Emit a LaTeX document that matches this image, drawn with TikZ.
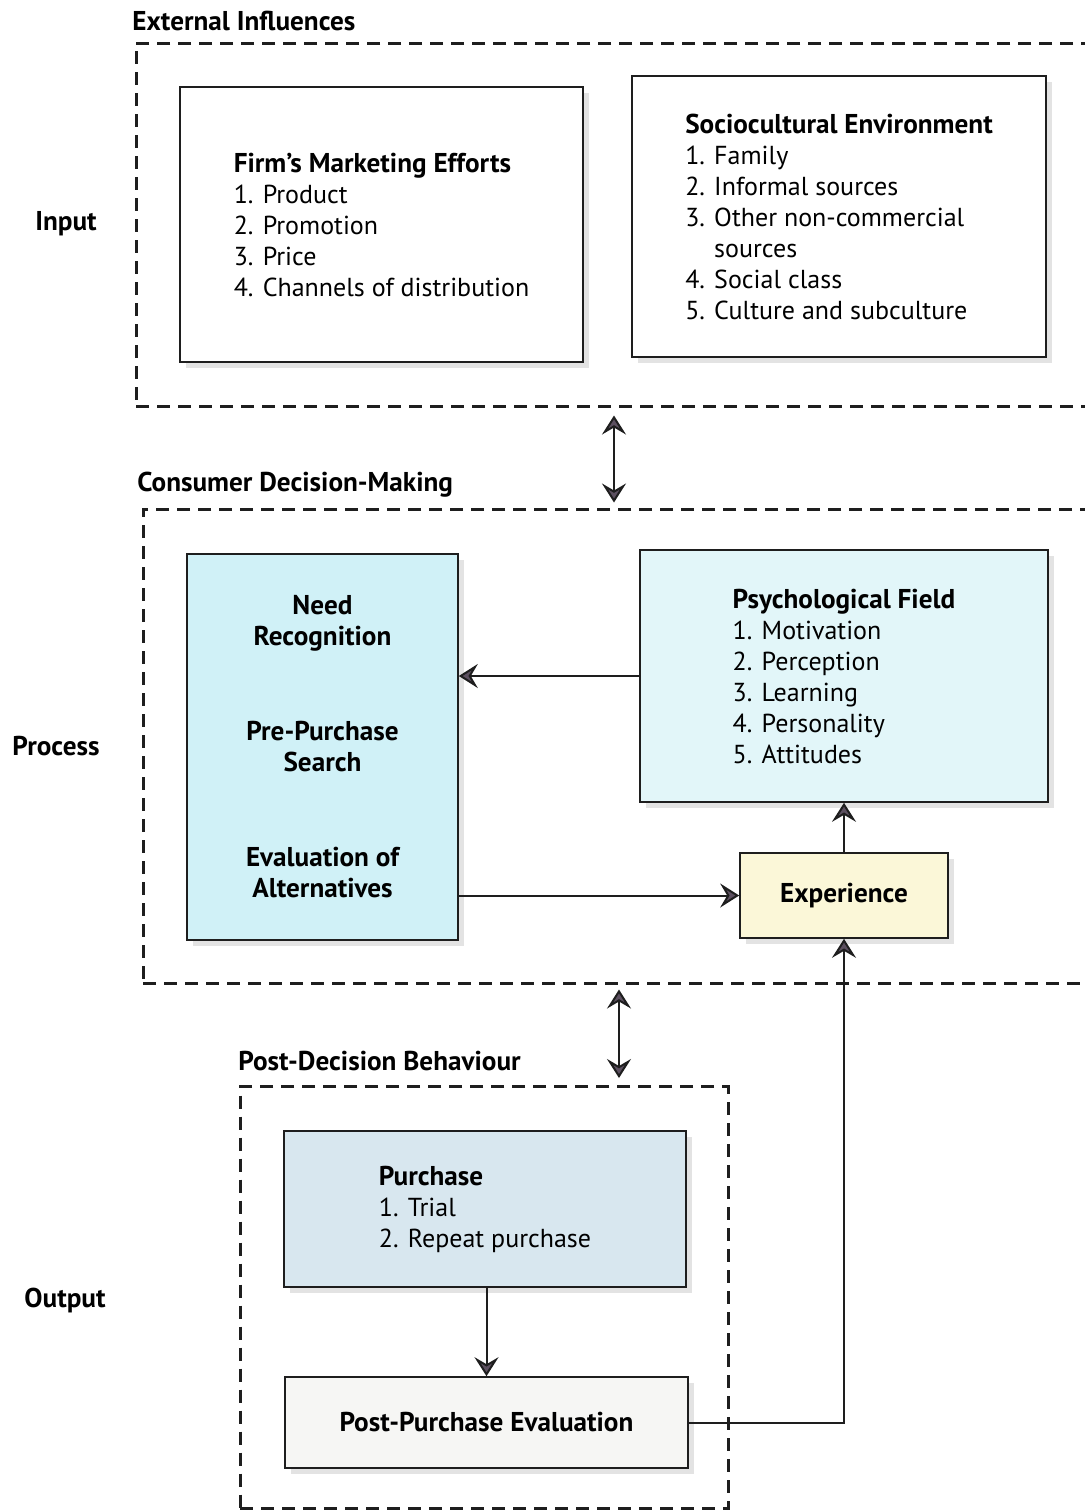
\documentclass[tikz,border=0pt]{standalone}
\usepackage{fontspec}
\setmainfont{PT Sans}
\usetikzlibrary{positioning,arrows.meta,shadows}
\definecolor{needfill}{RGB}{208,241,247}
\definecolor{psyfill}{RGB}{226,246,249}
\definecolor{expfill}{RGB}{251,247,216}
\definecolor{purfill}{RGB}{216,231,239}
\definecolor{postfill}{RGB}{246,246,244}
\definecolor{tipgray}{RGB}{92,80,96}
\definecolor{ink}{RGB}{30,30,30}
\newcommand{\boxfont}{\fontsize{13}{15.5}\selectfont}
\newcommand{\headfont}{\fontsize{13.6}{15.5}\selectfont\bfseries}
\tikzset{
    node distance=3cm,
    box/.style = {
        draw=ink,
        shape=rectangle,
        fill=white,
        align=left,
        inner sep=0pt,
        line width=0.8pt,
        font=\boxfont,
        drop shadow={shadow xshift=3pt, shadow yshift=-3pt, opacity=0.22}
    },
    frame/.style = {
        draw=ink,
        shape=rectangle,
        inner sep=0pt,
        line width=1.5pt,
        dash pattern=on 6.5pt off 4pt
    },
    heading/.style = {
        font=\headfont,
        anchor=west,
        inner sep=0pt
    },
    side/.style = {
        font=\headfont,
        inner sep=0pt
    },
    link/.style = {
        draw=ink,
        line width=1pt
    },
    >={Stealth[length=9.5pt,width=12pt,inset=3.5pt,fill=tipgray]},
}

\begin{document}
\begin{tikzpicture}[x=0.5pt, y=-0.5pt]
    \useasboundingbox (0,0) rectangle (1085,1512);

    % dashed frames (right side runs off the page)
    \node[frame, minimum width=479.5pt, minimum height=181.5pt] (ext) at (615.5,224.5) {};
    \node[frame, minimum width=476pt, minimum height=237pt] (cdm) at (619,746) {};
    \node[frame, minimum width=244pt, minimum height=211pt] (pdb) at (484,1297.5) {};

    \node[heading] (extlab) at (132,21) {External Influences};
    \node[heading] (cdmlab) at (137,485) {Consumer Decision-Making};
    \node[heading] (pdblab) at (238,1061) {Post-Decision Behaviour};

    \node[side] (input) at (66,224) {Input};
    \node[side] (process) at (56,746) {Process};
    \node[side] (output) at (65,1300) {Output};

    \node[box, minimum width=201.5pt, minimum height=137.5pt] (firm) at (381.5,224.5)
        {{\headfont Firm's Marketing Efforts}\\1. Product\\2. Promotion\\3. Price\\4. Channels of distribution};
    \node[box, minimum width=207pt, minimum height=140.5pt] (socio) at (839,216.5)
        {{\headfont Sociocultural Environment}\\1. Family\\2. Informal sources\\3. Other non-commercial\\\phantom{3. }sources\\4. Social class\\5. Culture and subculture};

    \node[box, fill=needfill, align=center, font=\headfont, minimum width=135.5pt, minimum height=193pt] (need) at (322.5,747)
        {Need\\Recognition\\[32pt]Pre-Purchase\\Search\\[32pt]Evaluation of\\Alternatives};
    \node[box, fill=psyfill, minimum width=204pt, minimum height=126pt] (psych) at (844,676)
        {{\headfont Psychological Field}\\1. Motivation\\2. Perception\\3. Learning\\4. Personality\\5. Attitudes};
    \node[box, fill=expfill, font=\headfont, minimum width=104pt, minimum height=42.5pt] (exp) at (844,895.5) {Experience};

    \node[box, fill=purfill, minimum width=201pt, minimum height=78pt] (purch) at (485,1209)
        {{\headfont Purchase}\\1. Trial\\2. Repeat purchase};
    \node[box, fill=postfill, font=\headfont, minimum width=201.5pt, minimum height=45.5pt] (post) at (486.5,1422.5) {Post-Purchase Evaluation};

    \path[link, <->, shorten <=4pt, shorten >=2.5pt] (ext.south -| 614,0) -- (cdm.north -| 614,0);
    \path[link, <->, shorten <=2.5pt, shorten >=3.5pt] (cdm.south -| 619,0) -- (pdb.north -| 619,0);
    \path[link, ->] (psych.west) -- (psych.west -| need.east);
    \path[link, ->] (exp.west -| need.east) -- (exp.west);
    \path[link, ->] (exp.north) -- (psych.south);
    \path[link, ->] (purch.south -| post.north) -- (post.north);
    \path[link, ->] (post.east) -| (exp.south);
\end{tikzpicture}
\end{document}
